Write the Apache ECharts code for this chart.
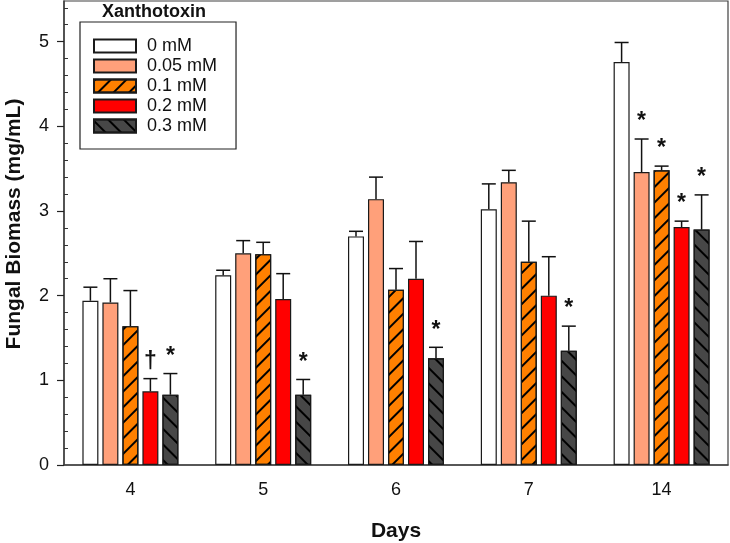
<!DOCTYPE html>
<html style="height: 100%">
<head>
	<meta charset="utf-8">
	<script type="text/javascript" src="https://cdn.jsdelivr.net/npm/echarts@6/dist/echarts.min.js"></script>
</head>
<body style="height: 100%; margin: 0; background: #fff">
	<div id="container" style="width: 730px; height: 543px"></div>
	<script>
	// days on the x axis
	var days = ['4', '5', '6', '7', '14'];
	var doses = ['0 mM', '0.05 mM', '0.1 mM', '0.2 mM', '0.3 mM'];
	// mean fungal biomass (mg/mL) per dose
	var mean0   = [1.94, 2.24, 2.70, 3.02, 4.76];
	var mean005 = [1.92, 2.50, 3.14, 3.34, 3.46];
	var mean01  = [1.64, 2.49, 2.07, 2.40, 3.48];
	var mean02  = [0.87, 1.96, 2.20, 2.00, 2.81];
	var mean03  = [0.83, 0.83, 1.26, 1.35, 2.78];
	// error bars (upper only)
	var err0   = [0.16, 0.06, 0.06, 0.30, 0.23];
	var err005 = [0.28, 0.15, 0.26, 0.14, 0.39];
	var err01  = [0.42, 0.14, 0.25, 0.48, 0.05];
	var err02  = [0.15, 0.30, 0.44, 0.46, 0.07];
	var err03  = [0.25, 0.18, 0.13, 0.29, 0.41];
	// significance marks
	var mark0   = ['', '', '', '', ''];
	var mark005 = ['', '', '', '', '*'];
	var mark01  = ['', '', '', '', '*'];
	var mark02  = ['\u2020', '', '', '', '*'];
	var mark03  = ['*', '*', '*', '*', '*'];
	var yTicks = [0, 1, 2, 3, 4, 5];
	var minorTicks = [0.2, 0.4, 0.6, 0.8, 1.2, 1.4, 1.6, 1.8, 2.2, 2.4, 2.6, 2.8,
		3.2, 3.4, 3.6, 3.8, 4.2, 4.4, 4.6, 4.8, 5.2, 5.4];

	var means = [mean0, mean005, mean01, mean02, mean03];
	var errs = [err0, err005, err01, err02, err03];
	var marks = [mark0, mark005, mark01, mark02, mark03];
	var colors = ['#ffffff', '#ffa07a', '#ff8000', '#ff0000', '#474747'];
	var decals = [null, null,
		{symbol: 'rect', symbolSize: 1, dashArrayX: [1, 0], dashArrayY: [1.3, 9], rotation: -Math.PI / 4, color: '#000'},
		null,
		{symbol: 'rect', symbolSize: 1, dashArrayX: [1, 0], dashArrayY: [1.3, 9], rotation: Math.PI / 4, color: '#000'}];
	var font = 'Liberation Sans, Arial, sans-serif';
	var barW = 16, barStep = 20;

	var myChart = echarts.init(document.getElementById('container'));

	function errRenderer(k) {
		return function (params, api) {
			var i = api.value(0), m = api.value(1), e = api.value(2);
			var base = api.coord([i, m]);
			var tip = api.coord([i, m + e]);
			var x = base[0] + (k - 2) * barStep;
			var st = {stroke: '#111', lineWidth: 1.5};
			var children = [
				{type: 'line', shape: {x1: x, y1: base[1], x2: x, y2: tip[1]}, style: st},
				{type: 'line', shape: {x1: x - 7, y1: tip[1], x2: x + 7, y2: tip[1]}, style: st}
			];
			var mk = marks[k][params.dataIndex];
			if (mk) {
				children.push({type: 'text', x: x, y: tip[1] - 17, style: {
					text: mk, fill: '#111', font: 'bold 23px ' + font,
					align: 'center', verticalAlign: 'middle'}});
			}
			return {type: 'group', children: children};
		};
	}

	var series = [];
	for (var k = 0; k < 5; k++) {
		var st = {color: colors[k], borderColor: '#1a1a1a', borderWidth: 1.2};
		if (decals[k]) st.decal = decals[k];
		series.push({
			name: doses[k], type: 'bar', barWidth: barW, barGap: '25%',
			itemStyle: st, data: means[k], z: 2
		});
	}
	for (var k = 0; k < 5; k++) {
		var d = [];
		for (var i = 0; i < days.length; i++) d.push([i, means[k][i], errs[k][i]]);
		series.push({
			type: 'custom', renderItem: errRenderer(k), data: d, z: 3,
			encode: {x: 0, y: 1}, silent: true
		});
	}

	var option = {
		animation: false,
		title: {
			text: 'Xanthotoxin', left: 102, top: 3, padding: 0,
			textStyle: {fontFamily: font, fontSize: 18, fontWeight: 'bold', color: '#111'}
		},
		legend: {
			data: doses, orient: 'vertical', left: 80, top: 22,
			padding: [14, 19, 13, 13], itemGap: 0, itemWidth: 42, itemHeight: 13,
			borderColor: '#222', borderWidth: 1.2, icon: 'rect',
			textStyle: {fontFamily: font, fontSize: 18, color: '#111', lineHeight: 20, padding: [0, 0, 0, 6]}
		},
		grid: {
			left: 64, right: 2, top: 1, bottom: 78, show: true,
			containLabel: false, outerBoundsMode: 'none',
			borderColor: '#404040', borderWidth: 1.2
		},
		xAxis: {
			type: 'category', data: days,
			axisLine: {lineStyle: {color: '#404040', width: 1.5}},
			axisTick: {alignWithLabel: true, length: 6, lineStyle: {color: '#222', width: 1.2}},
			axisLabel: {fontFamily: font, fontSize: 18, color: '#111', margin: 16},
			name: 'Days', nameLocation: 'middle', nameGap: 56,
			nameTextStyle: {fontFamily: font, fontSize: 21, fontWeight: 'bold', color: '#111'}
		},
		yAxis: [{
			type: 'value', min: 0, max: 5.48, interval: 1,
			position: 'left',
			axisLine: {show: true, lineStyle: {color: '#404040', width: 1.5}},
			axisTick: {show: true, length: 7, customValues: yTicks, lineStyle: {color: '#222', width: 1.2}},
			axisLabel: {fontFamily: font, fontSize: 18, color: '#111', margin: 15, customValues: yTicks},
			splitLine: {show: false},
			name: 'Fungal Biomass (mg/mL)', nameLocation: 'middle', nameGap: 39,
			nameTextStyle: {fontFamily: font, fontSize: 21, fontWeight: 'bold', color: '#111', padding: [0, 0, 0, 18]}
		}, {
			type: 'value', min: 0, max: 5.48, interval: 0.2,
			position: 'left',
			axisLine: {show: false},
			axisTick: {show: true, inside: true, length: 4, customValues: minorTicks, lineStyle: {color: '#333', width: 1}},
			axisLabel: {show: false},
			splitLine: {show: false}
		}],
		series: series
	};

	myChart.setOption(option);
	</script>
</body>
</html>
